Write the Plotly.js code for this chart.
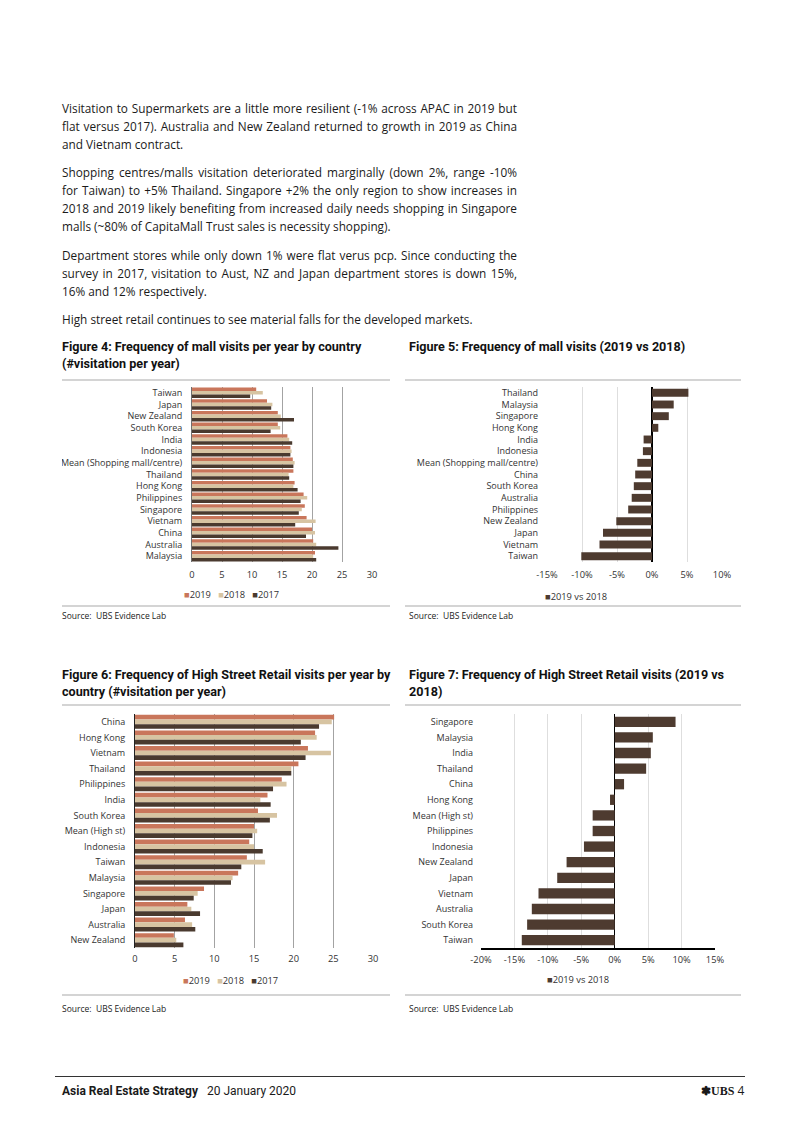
<!DOCTYPE html>
<html><head><meta charset="utf-8">
<script src="https://cdn.plot.ly/plotly-3.0.1.min.js"></script>
<style>
body{margin:0;background:#fff;}
#page{position:relative;width:802px;height:1133px;overflow:hidden;font-family:"Open Sans",sans-serif;color:#1a1a1a;}
.ln{position:absolute;left:62px;width:455px;font-size:11.8px;line-height:18px;white-space:nowrap;}
.j{text-align:justify;text-align-last:justify;}
.ttl{position:absolute;font-family:Roboto,sans-serif;font-weight:700;font-size:12.6px;line-height:17px;color:#111;white-space:nowrap;}
.src{position:absolute;font-family:"Open Sans",sans-serif;font-size:8.5px;color:#222;white-space:nowrap;}
.rule{position:absolute;height:2px;background:#d4d4d4;}
.chart{position:absolute;}
</style></head>
<body><div id="page">
<div class="ln j" style="top:99px">Visitation to Supermarkets are a little more resilient (-1% across APAC in 2019 but</div>
<div class="ln j" style="top:117px">flat versus 2017). Australia and New Zealand returned to growth in 2019 as China</div>
<div class="ln" style="top:135px">and Vietnam contract.</div>
<div class="ln j" style="top:163px">Shopping centres/malls visitation deteriorated marginally (down 2%, range -10%</div>
<div class="ln j" style="top:181px">for Taiwan) to +5% Thailand. Singapore +2% the only region to show increases in</div>
<div class="ln j" style="top:199px">2018 and 2019 likely benefiting from increased daily needs shopping in Singapore</div>
<div class="ln" style="top:217px">malls (~80% of CapitaMall Trust sales is necessity shopping).</div>
<div class="ln j" style="top:246px">Department stores while only down 1% were flat verus pcp. Since conducting the</div>
<div class="ln j" style="top:264px">survey in 2017, visitation to Aust, NZ and Japan department stores is down 15%,</div>
<div class="ln" style="top:282px">16% and 12% respectively.</div>
<div class="ln" style="top:310px">High street retail continues to see material falls for the developed markets.</div>

<div class="ttl" style="left:62px;top:338px">Figure 4: Frequency of mall visits per year by country<br>(#visitation per year)</div>
<div class="ttl" style="left:409px;top:338px">Figure 5: Frequency of mall visits (2019 vs 2018)</div>
<div class="rule" style="left:62px;width:328px;top:379px"></div>
<div class="rule" style="left:405px;width:336px;top:379px"></div>
<div id="c4" class="chart" style="left:62px;top:381px"></div>
<div id="c5" class="chart" style="left:405px;top:381px"></div>
<div class="rule" style="left:62px;width:328px;top:605px"></div>
<div class="rule" style="left:405px;width:336px;top:605px"></div>
<div class="src" style="left:62px;top:610px">Source:&nbsp; UBS Evidence Lab</div>
<div class="src" style="left:409px;top:610px">Source:&nbsp; UBS Evidence Lab</div>

<div class="ttl" style="left:62px;top:666px">Figure 6: Frequency of High Street Retail visits per year by<br>country (#visitation per year)</div>
<div class="ttl" style="left:409px;top:666px">Figure 7: Frequency of High Street Retail visits (2019 vs<br>2018)</div>
<div class="rule" style="left:62px;width:328px;top:704px"></div>
<div class="rule" style="left:405px;width:336px;top:704px"></div>
<div id="c6" class="chart" style="left:62px;top:706px"></div>
<div id="c7" class="chart" style="left:405px;top:706px"></div>
<div class="rule" style="left:62px;width:328px;top:994px"></div>
<div class="rule" style="left:405px;width:336px;top:994px"></div>
<div class="src" style="left:62px;top:1003px">Source:&nbsp; UBS Evidence Lab</div>
<div class="src" style="left:409px;top:1003px">Source:&nbsp; UBS Evidence Lab</div>

<div style="position:absolute;left:55px;width:690px;top:1076px;height:1px;background:#333"></div>
<div style="position:absolute;left:62px;top:1083px;font-size:12px;line-height:16px;white-space:nowrap;font-family:Roboto,sans-serif;"><b>Asia Real Estate Strategy</b>&nbsp;&nbsp; 20 January 2020</div>
<div style="position:absolute;left:701px;top:1083px;font-size:12px;line-height:16px;white-space:nowrap;"><span style="font-family:'Liberation Serif',serif;font-weight:700;">✽UBS</span> 4</div>
</div>
<script>
// ---------- DATA ----------
var seriesNames = ['2019', '2018', '2017'];

var mallCats = ['Taiwan','Japan','New Zealand','South Korea','India','Indonesia','Mean (Shopping mall/centre)','Thailand','Hong Kong','Philippines','Singapore','Vietnam','China','Australia','Malaysia'];
var mall2019 = [10.7,12.5,14.3,14.3,15.9,16.4,16.8,16.9,17.1,18.6,18.8,19.1,20.0,20.2,20.5];
var mall2018 = [11.8,13.4,14.8,14.7,16.2,16.6,17.1,16.1,16.9,19.2,18.3,20.6,20.5,20.7,20.2];
var mall2017 = [9.7,13.2,17.0,13.1,16.7,16.4,16.9,16.2,17.6,18.1,17.8,17.2,19.0,24.4,20.7];

var mallChgName = '2019 vs 2018';
var mallChgCats = ['Thailand','Malaysia','Singapore','Hong Kong','India','Indonesia','Mean (Shopping mall/centre)','China','South Korea','Australia','Philippines','New Zealand','Japan','Vietnam','Taiwan'];
var mallChg = [5.2,3.1,2.4,0.9,-1.2,-1.3,-2.1,-2.4,-2.6,-2.9,-3.4,-5.1,-7.0,-7.5,-10.1];

var hsCats = ['China','Hong Kong','Vietnam','Thailand','Philippines','India','South Korea','Mean (High st)','Indonesia','Taiwan','Malaysia','Singapore','Japan','Australia','New Zealand'];
var hs2019 = [25.1,22.7,21.8,20.6,18.5,16.7,15.5,15.0,14.4,14.1,13.0,8.7,6.6,6.3,4.9];
var hs2018 = [24.8,22.9,24.7,19.7,19.1,15.8,17.9,15.4,15.0,16.4,12.3,7.9,7.1,7.2,5.2];
var hs2017 = [23.2,20.9,21.5,19.7,17.4,17.1,17.0,14.8,16.1,13.4,12.1,7.4,8.2,7.6,6.1];

var hsChgCats = ['Singapore','Malaysia','India','Thailand','China','Hong Kong','Mean (High st)','Philippines','Indonesia','New Zealand','Japan','Vietnam','Australia','South Korea','Taiwan'];
var hsChg = [9.1,5.7,5.4,4.7,1.4,-0.7,-3.3,-3.3,-4.6,-7.2,-8.6,-11.4,-12.4,-13.1,-13.9];

var countTicks = [0,5,10,15,20,25,30];
var mallPctTicks = [-15,-10,-5,0,5,10];
var hsPctTicks = [-20,-15,-10,-5,0,5,10,15];

// ---------- STYLE ----------
var yearColors = ['#c9765b','#d7c4a2','#4a3a2f'];
var chgColor = '#4e3b30';
var FONT = {family:'Open Sans, sans-serif', size:9, color:'#333'};
var LFONT = {family:'Open Sans, sans-serif', size:9.3, color:'#333'};
var cfg = {staticPlot:true, displayModeBar:false};

function legendText(names, colors){
  return names.map(function(n,i){
    return '<span style="color:'+colors[i]+'">■</span>'+n;
  }).join('&nbsp;&nbsp;&nbsp;');
}

function groupChart(id, cats, vals, box, legendPos){
  var W=box.w, H=box.h;
  var pw = box.px1-box.px0, ph = box.py1-box.py0;
  var traces = vals.map(function(v,i){
    return {type:'bar', orientation:'h', y:cats, x:v, name:seriesNames[i],
      marker:{color:yearColors[i], line:{width:0}}};
  });
  var layout = {
    width:W, height:H, font:FONT, showlegend:false,
    paper_bgcolor:'#fff', plot_bgcolor:'#fff',
    margin:{l:box.px0-box.left, r:W-(box.px1-box.left), t:box.py0-box.top, b:H-(box.py1-box.top), pad:0},
    barmode:'group', bargap:box.gap, bargroupgap:0,
    xaxis:{range:[0,30], tickvals:countTicks, ticktext:countTicks.map(String), showgrid:true, gridcolor:'#a3a3a3', gridwidth:1,
      zeroline:false, showline:false, ticks:'', ticklabelstandoff:box.xstand, tickfont:LFONT},
    yaxis:{autorange:'reversed', showline:true, linecolor:box.axisColor, linewidth:1, ticks:'',
      ticklabelstandoff:box.standoff, showgrid:false, zeroline:false},
    annotations:[{xref:'paper', yref:'paper', x:(legendPos[0]-box.px0)/pw, y:(box.py1-legendPos[1])/ph,
      xanchor:'center', yanchor:'middle', showarrow:false, text:legendText(seriesNames, yearColors), font:LFONT}]
  };
  Plotly.newPlot(id, traces, layout, cfg);
}

function chgChart(id, cats, vals, ticks, box, legendPos){
  var W=box.w, H=box.h;
  var pw = box.px1-box.px0, ph = box.py1-box.py0;
  var traces = [{type:'bar', orientation:'h', y:cats, x:vals, name:mallChgName,
    marker:{color:chgColor, line:{width:0}}}];
  var layout = {
    width:W, height:H, font:FONT, showlegend:false,
    paper_bgcolor:'#fff', plot_bgcolor:'#fff',
    margin:{l:box.px0-box.left, r:W-(box.px1-box.left), t:box.py0-box.top, b:H-(box.py1-box.top), pad:0},
    bargap:box.gap,
    xaxis:{range:[ticks[0], ticks[ticks.length-1]], tickvals:ticks, ticktext:ticks.map(function(t){return t+'%';}),
      showgrid:true, gridcolor:'#dedede', gridwidth:1, zeroline:true, zerolinecolor:'#000', zerolinewidth:1.5,
      showline:box.bottomLine, linecolor:'#000', linewidth:2, ticks:'', ticklabelstandoff:box.xstand, tickfont:LFONT},
    yaxis:{autorange:'reversed', showline:false, ticks:'', ticklabelstandoff:box.standoff, showgrid:false, zeroline:false},
    annotations:[{xref:'paper', yref:'paper', x:(legendPos[0]-box.px0)/pw, y:(box.py1-legendPos[1])/ph,
      xanchor:'center', yanchor:'middle', showarrow:false, text:legendText([mallChgName],[chgColor]), font:LFONT}]
  };
  Plotly.newPlot(id, traces, layout, cfg);
}

groupChart('c4', mallCats, [mall2019, mall2018, mall2017],
  {left:62, top:381, w:328, h:224, px0:192, px1:372, py0:387, py1:562, gap:0.1, axisColor:'#6f6f6f', standoff:7, xstand:6},
  [231, 594]);
chgChart('c5', mallChgCats, mallChg, mallPctTicks,
  {left:405, top:381, w:336, h:224, px0:547, px1:722, py0:387, py1:562, gap:0.32, standoff:8, bottomLine:false, xstand:6},
  [576, 596]);
groupChart('c6', hsCats, [hs2019, hs2018, hs2017],
  {left:62, top:706, w:328, h:288, px0:135, px1:373, py0:714, py1:948, gap:0.1, axisColor:'#222', standoff:7, xstand:4},
  [230, 980]);
chgChart('c7', hsChgCats, hsChg, hsPctTicks,
  {left:405, top:706, w:336, h:288, px0:481, px1:715, py0:714, py1:948, gap:0.34, standoff:7, bottomLine:true, xstand:2},
  [578, 979]);
</script>
</body></html>
